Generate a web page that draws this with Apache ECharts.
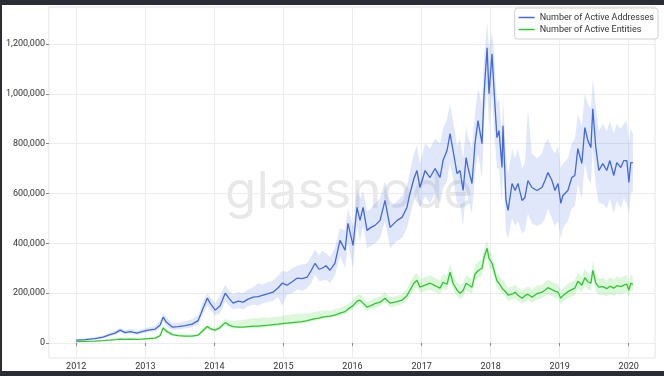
<!DOCTYPE html>
<html><head><meta charset="utf-8">
<script src="https://cdn.jsdelivr.net/npm/echarts@6/dist/echarts.min.js"></script>
<style>
html,body{margin:0;padding:0;background:#2a2d34;width:664px;height:376px;overflow:hidden}
#c{position:absolute;left:2px;top:5px;width:662px;height:366px;background:#fff}
</style></head><body><div id="c"></div>
<script>
// values in thousands
var dates=['2012-01-01','2012-02-17','2012-04-10','2012-05-22','2012-06-28','2012-07-25','2012-08-20','2012-09-16','2012-10-12','2012-11-18','2012-12-14',
'2013-01-16','2013-02-22','2013-03-20','2013-04-05','2013-04-21','2013-05-23','2013-06-23','2013-07-30','2013-09-05','2013-10-07','2013-11-02','2013-11-24','2013-12-09',
'2014-01-05','2014-01-31','2014-02-27','2014-03-20','2014-04-10','2014-05-06','2014-06-02','2014-06-28','2014-07-25','2014-08-20','2014-09-15','2014-10-12','2014-11-07','2014-12-04','2014-12-25',
'2015-01-20','2015-02-16','2015-03-14','2015-04-09','2015-05-06','2015-05-27','2015-06-17','2015-07-08','2015-07-24','2015-08-14','2015-09-04','2015-09-30','2015-10-27','2015-11-23','2015-12-08',
'2016-01-04','2016-01-25','2016-02-10','2016-02-26','2016-03-18','2016-04-08','2016-04-29','2016-05-26','2016-06-21','2016-07-18','2016-08-24','2016-09-19','2016-10-15','2016-10-31','2016-11-21','2016-12-07','2016-12-23',
'2017-01-19','2017-02-14','2017-03-13','2017-04-08','2017-04-24','2017-05-15','2017-05-31','2017-06-16','2017-07-07','2017-07-23','2017-08-08','2017-08-24','2017-09-03','2017-09-24','2017-10-10','2017-10-26','2017-11-16','2017-11-27','2017-12-13','2017-12-23',
'2018-01-08','2018-01-19','2018-02-03','2018-02-14','2018-03-02','2018-03-07','2018-03-23','2018-04-03','2018-04-24','2018-05-10','2018-05-25','2018-06-16','2018-07-01','2018-07-17','2018-08-07','2018-09-03','2018-09-29','2018-10-15','2018-10-31','2018-11-21','2018-12-07','2018-12-23',
'2019-01-07','2019-01-18','2019-02-13','2019-03-06','2019-03-22','2019-04-07','2019-04-28','2019-05-14','2019-05-30','2019-06-15','2019-06-25','2019-07-11','2019-07-27','2019-08-17','2019-09-07','2019-09-23','2019-10-14','2019-10-30','2019-11-20','2019-12-06','2019-12-22',
'2020-01-02','2020-01-12','2020-01-23'];

var addresses=[12,14,18,24,34,40,52,42,46,40,46,
52,56,72,104,84,64,66,70,76,90,140,180,160,
132,150,200,178,160,168,164,176,184,186,192,198,204,222,240,
232,246,260,258,264,290,320,296,300,310,292,320,412,372,480,
392,544,492,544,452,464,472,492,572,464,492,504,544,600,660,692,624,
692,664,700,664,732,772,840,772,680,692,612,744,704,640,800,892,800,1000,1184,1000,
1160,1012,824,852,704,872,572,532,640,612,640,572,584,652,624,612,624,652,684,652,612,640,
560,592,612,664,672,780,720,864,812,784,940,784,692,720,692,732,672,724,704,732,732,
644,724,724];
var addressesHigh=[16,18,24,30,42,50,60,52,56,50,56,
62,68,90,120,104,78,82,86,96,112,170,200,185,
160,190,235,210,195,205,200,215,225,240,235,245,250,270,290,
285,300,310,315,320,345,375,350,370,360,345,380,460,450,540,
470,620,580,610,530,540,560,580,650,545,570,590,630,690,760,790,720,
800,780,820,800,860,900,960,890,790,820,740,870,830,780,920,1020,960,1140,1290,1180,
1250,1160,960,980,840,990,740,680,780,740,780,700,720,940,760,740,760,800,820,780,760,790,
700,720,740,800,820,920,870,1000,960,940,1060,950,850,880,850,890,840,880,860,880,890,
800,860,840];
var addressesLow=[9,11,14,19,28,33,44,35,38,33,38,
44,46,60,88,68,52,54,58,62,74,118,150,135,
110,120,170,150,135,140,135,148,155,150,160,165,170,185,150,
195,200,215,210,220,240,275,250,250,255,240,270,350,300,400,
300,470,410,470,380,390,400,420,490,380,410,420,460,510,570,600,540,
590,560,600,560,620,650,720,660,560,560,470,620,580,520,680,760,660,870,1040,860,
1000,860,700,700,560,730,440,420,500,470,490,440,450,520,480,470,480,500,540,500,470,490,
420,460,490,540,550,640,580,720,660,640,780,630,560,560,540,580,520,570,540,580,560,
520,600,610];

var entities=[6,7,8,10,12,14,16,15,16,15,16,
18,20,30,60,48,34,30,28,28,32,50,66,58,
52,62,82,72,66,64,64,66,68,68,70,72,74,76,78,
80,82,84,86,90,94,98,100,104,106,108,112,120,126,136,
150,168,172,160,144,150,158,164,180,160,166,172,190,212,240,252,224,
232,240,230,220,244,236,284,240,212,200,210,240,232,224,276,290,300,344,380,340,
320,290,250,240,220,226,204,192,196,204,192,180,190,196,184,198,204,212,222,214,208,204,
180,190,206,214,220,248,232,262,246,240,292,240,224,226,218,228,220,230,226,232,236,
212,240,236];
var entitiesHigh=[8,9,10,12,14,17,19,18,19,18,19,
22,24,36,70,56,40,36,34,34,38,58,74,66,
62,74,96,90,86,90,92,96,100,98,102,100,104,106,108,
112,114,118,118,120,122,126,128,130,132,130,136,142,148,158,
172,192,196,184,166,172,180,188,206,182,190,196,218,244,272,282,256,
264,272,262,252,276,270,320,276,244,232,242,274,266,258,310,326,338,380,410,376,
352,322,282,272,250,258,234,222,226,234,222,210,220,228,216,230,234,244,254,246,240,236,
208,220,238,246,252,282,266,298,280,274,330,274,258,262,252,264,256,266,262,268,272,
244,276,270];
var entitiesLow=[5,6,7,8,10,12,13,12,13,12,13,
15,17,25,52,40,29,25,23,23,27,42,58,50,
46,54,74,64,58,58,58,60,60,60,62,64,66,68,70,
72,74,76,78,82,86,90,92,96,98,100,104,110,116,124,
136,152,156,144,130,136,142,148,162,144,150,156,172,190,216,226,200,
208,214,206,196,218,212,254,214,188,176,186,214,206,198,248,262,270,312,346,306,
290,262,224,214,196,200,180,170,174,180,170,158,166,172,162,174,180,188,196,188,182,178,
156,166,180,188,192,218,204,230,216,210,258,208,194,194,188,196,190,198,194,200,204,
184,210,206];

var yTicks=[0,200000,400000,600000,800000,1000000,1200000];
var xTickYears=[2012,2013,2014,2015,2016,2017,2018,2019,2020];

function ts(d){return Date.parse(d+'T00:00:00Z');}
function pairs(arr){return dates.map(function(d,i){return [ts(d),arr[i]*1000];});}
var xTicks=xTickYears.map(function(y){return Date.UTC(y,0,1);});

function bandSeries(name,hi,lo,color){
  return {name:name,type:'custom',silent:true,z:1,
    data:[[ts(dates[0]),hi[0]*1000]],
    encode:{x:0,y:1},
    renderItem:function(params,api){
      var pts=[],i;
      for(i=0;i<dates.length;i++){pts.push(api.coord([ts(dates[i]),hi[i]*1000]));}
      for(i=dates.length-1;i>=0;i--){pts.push(api.coord([ts(dates[i]),lo[i]*1000]));}
      return {type:'polygon',shape:{points:pts},style:{fill:color,stroke:null}};
    }};
}

var FONT='Roboto';
var chart=echarts.init(document.getElementById('c'),null,{renderer:'canvas'});
chart.setOption({
  animation:false,
  textStyle:{fontFamily:FONT},
  grid:{left:47,right:9,top:2,bottom:13,show:true,borderColor:'#e3e3e3',borderWidth:1,backgroundColor:'transparent'},
  graphic:[{type:'text',x:347,y:188,z:0,silent:true,
    style:{text:'glassnode',font:'400 51px Inter',fill:'rgba(0,0,0,0.09)',textAlign:'center',textVerticalAlign:'middle'}}],
  legend:{right:6,top:3,orient:'vertical',itemGap:3,itemWidth:16,itemHeight:1.5,icon:'rect',
    padding:[5,4,5,4],borderColor:'#cfcfcf',borderWidth:1,borderRadius:3,backgroundColor:'#fff',
    textStyle:{fontSize:9,color:'#333',fontFamily:FONT,padding:[0,0,0,0]},
    data:['Number of Active Addresses','Number of Active Entities']},
  xAxis:{type:'value',min:ts('2011-08-10'),max:ts('2020-05-19'),
    axisLine:{show:false},
    axisTick:{show:true,length:3,lineStyle:{color:'#888'},customValues:xTicks},
    axisLabel:{fontSize:9,color:'#333',margin:4,customValues:xTicks,
      formatter:function(v){return String(new Date(v).getUTCFullYear());}},
    splitLine:{show:true,lineStyle:{color:'#ececec',width:1}}},
  yAxis:{type:'value',min:-60000,max:1348000,
    axisLine:{show:false},
    axisTick:{show:true,length:3,lineStyle:{color:'#888'},customValues:yTicks},
    axisLabel:{fontSize:9,color:'#333',margin:4,customValues:yTicks,
      formatter:function(v){return v.toLocaleString('en-US');}},
    splitLine:{show:true,lineStyle:{color:'#ececec',width:1}}},
  series:[
    bandSeries('aBand',addressesHigh,addressesLow,'rgba(65,105,225,0.16)'),
    bandSeries('eBand',entitiesHigh,entitiesLow,'rgba(50,205,50,0.17)'),
    {name:'Number of Active Addresses',type:'line',z:3,data:pairs(addresses),symbol:'none',
      lineStyle:{color:'#4169e1',width:1.3},itemStyle:{color:'#4169e1'}},
    {name:'Number of Active Entities',type:'line',z:3,data:pairs(entities),symbol:'none',
      lineStyle:{color:'#2ec82e',width:1.3},itemStyle:{color:'#2ec82e'}}
  ]
});
</script></body></html>
